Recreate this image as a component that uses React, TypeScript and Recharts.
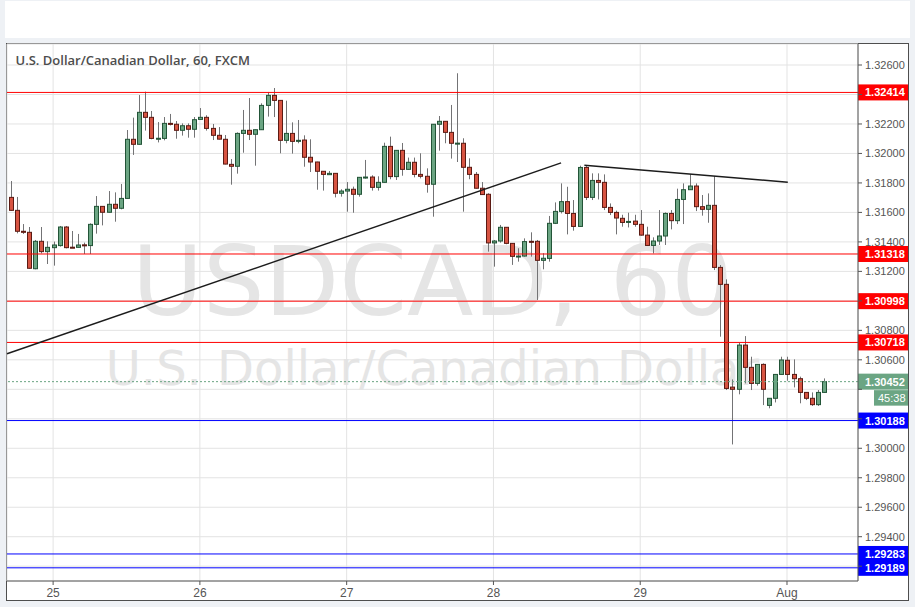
import React from 'react';
import { ComposedChart, Bar, XAxis, YAxis, CartesianGrid, ReferenceLine } from 'recharts';

const OPEN = [
  1.31702, 1.31614, 1.31472, 1.31465, 1.31218, 1.31404, 1.31334, 1.31361, 1.31375, 1.31501,
  1.31364, 1.31363, 1.31380, 1.31375, 1.31519, 1.31641, 1.31601, 1.31655, 1.31628, 1.31695,
  1.32096, 1.32062, 1.32279, 1.32245, 1.32102, 1.32102, 1.32204, 1.32198, 1.32157, 1.32188,
  1.32164, 1.32231, 1.32245, 1.32170, 1.32123, 1.32096, 1.31926, 1.31913, 1.32136, 1.32157,
  1.32130, 1.32161, 1.32326, 1.32394, 1.32360, 1.32089, 1.32136, 1.32082, 1.32091, 1.31974,
  1.31942, 1.31879, 1.31856, 1.31865, 1.31730, 1.31745, 1.31757, 1.31723, 1.31838, 1.31840,
  1.31770, 1.31804, 1.32048, 1.31843, 1.32021, 1.31892, 1.31940, 1.31858, 1.31845, 1.31791,
  1.32198, 1.32218, 1.32143, 1.32069, 1.32069, 1.31906, 1.31858, 1.31764, 1.31723, 1.31393,
  1.31406, 1.31499, 1.31390, 1.31302, 1.31304, 1.31404, 1.31404, 1.31275, 1.31288, 1.31526,
  1.31607, 1.31673, 1.31593, 1.31505, 1.31905, 1.31702, 1.31817, 1.31804, 1.31634, 1.31600,
  1.31560, 1.31532, 1.31541, 1.31519, 1.31446, 1.31376, 1.31406, 1.31440, 1.31593, 1.31544,
  1.31688, 1.31754, 1.31779, 1.31639, 1.31621, 1.31648, 1.31227, 1.31112, 1.30415, 1.30400,
  1.30700, 1.30549, 1.30440, 1.30569, 1.30291, 1.30339, 1.30501, 1.30597, 1.30501, 1.30472,
  1.30379, 1.30339, 1.30296, 1.30379,
];
const HIGH = [
  1.31813, 1.31705, 1.31521, 1.31501, 1.31413, 1.31501, 1.31404, 1.31402, 1.31508, 1.31508,
  1.31474, 1.31454, 1.31395, 1.31526, 1.31711, 1.31643, 1.31745, 1.31736, 1.31793, 1.32159,
  1.32243, 1.32396, 1.32419, 1.32288, 1.32213, 1.32247, 1.32268, 1.32220, 1.32204, 1.32204,
  1.32247, 1.32308, 1.32259, 1.32200, 1.32179, 1.32125, 1.31962, 1.32143, 1.32295, 1.32376,
  1.32162, 1.32340, 1.32417, 1.32444, 1.32362, 1.32358, 1.32211, 1.32227, 1.32123, 1.32096,
  1.31944, 1.31881, 1.31881, 1.31867, 1.31757, 1.31806, 1.31775, 1.31840, 1.31956, 1.31852,
  1.31845, 1.32073, 1.32114, 1.32023, 1.32071, 1.31972, 1.31972, 1.32001, 1.31899, 1.32200,
  1.32254, 1.32220, 1.32329, 1.32544, 1.32103, 1.31967, 1.31874, 1.31806, 1.31730, 1.31413,
  1.31515, 1.31501, 1.31392, 1.31357, 1.31424, 1.31465, 1.31413, 1.31323, 1.31576, 1.31668,
  1.31797, 1.31774, 1.31684, 1.31917, 1.31921, 1.31865, 1.31865, 1.31858, 1.31661, 1.31612,
  1.31584, 1.31598, 1.31584, 1.31616, 1.31503, 1.31431, 1.31616, 1.31600, 1.31616, 1.31761,
  1.31797, 1.31860, 1.31797, 1.31718, 1.31729, 1.31847, 1.31243, 1.31146, 1.30467, 1.30716,
  1.30761, 1.30621, 1.30569, 1.30576, 1.30341, 1.30504, 1.30621, 1.30621, 1.30603, 1.30486,
  1.30381, 1.30379, 1.30395, 1.30474,
];
const LOW = [
  1.31610, 1.31458, 1.31454, 1.31218, 1.31214, 1.31322, 1.31250, 1.31239, 1.31368, 1.31356,
  1.31361, 1.31361, 1.31318, 1.31318, 1.31456, 1.31512, 1.31599, 1.31537, 1.31621, 1.31693,
  1.31990, 1.32060, 1.32155, 1.32096, 1.32075, 1.32089, 1.32190, 1.32100, 1.32121, 1.32107,
  1.32107, 1.32229, 1.32155, 1.32091, 1.32095, 1.31926, 1.31788, 1.31863, 1.32005, 1.32091,
  1.31917, 1.32159, 1.32250, 1.32247, 1.32001, 1.32069, 1.31999, 1.32069, 1.31910, 1.31874,
  1.31754, 1.31748, 1.31854, 1.31702, 1.31707, 1.31605, 1.31598, 1.31707, 1.31829, 1.31748,
  1.31748, 1.31802, 1.31825, 1.31820, 1.31849, 1.31888, 1.31838, 1.31831, 1.31734, 1.31571,
  1.32019, 1.32069, 1.31965, 1.31942, 1.31605, 1.31825, 1.31762, 1.31719, 1.31334, 1.31232,
  1.31395, 1.31384, 1.31244, 1.31266, 1.31300, 1.31300, 1.31006, 1.31214, 1.31266, 1.31521,
  1.31593, 1.31451, 1.31476, 1.31503, 1.31684, 1.31684, 1.31688, 1.31616, 1.31582, 1.31451,
  1.31503, 1.31498, 1.31503, 1.31442, 1.31372, 1.31322, 1.31379, 1.31379, 1.31485, 1.31521,
  1.31521, 1.31752, 1.31609, 1.31578, 1.31530, 1.31209, 1.30757, 1.30395, 1.30026, 1.30366,
  1.30440, 1.30395, 1.30425, 1.30293, 1.30271, 1.30311, 1.30499, 1.30458, 1.30413, 1.30305,
  1.30327, 1.30287, 1.30287, 1.30377,
];
const CLOSE = [
  1.31614, 1.31472, 1.31465, 1.31221, 1.31404, 1.31334, 1.31363, 1.31379, 1.31501, 1.31361,
  1.31362, 1.31379, 1.31378, 1.31519, 1.31641, 1.31601, 1.31655, 1.31628, 1.31695, 1.32096,
  1.32062, 1.32279, 1.32245, 1.32102, 1.32103, 1.32204, 1.32198, 1.32157, 1.32188, 1.32164,
  1.32229, 1.32245, 1.32170, 1.32123, 1.32097, 1.31928, 1.31913, 1.32136, 1.32157, 1.32130,
  1.32161, 1.32326, 1.32394, 1.32360, 1.32089, 1.32136, 1.32082, 1.32089, 1.31974, 1.31942,
  1.31879, 1.31858, 1.31865, 1.31730, 1.31745, 1.31757, 1.31723, 1.31838, 1.31840, 1.31770,
  1.31804, 1.32048, 1.31843, 1.32021, 1.31892, 1.31940, 1.31858, 1.31845, 1.31791, 1.32198,
  1.32218, 1.32143, 1.32069, 1.32070, 1.31906, 1.31858, 1.31764, 1.31721, 1.31393, 1.31406,
  1.31499, 1.31390, 1.31302, 1.31304, 1.31402, 1.31402, 1.31275, 1.31289, 1.31526, 1.31607,
  1.31673, 1.31593, 1.31505, 1.31905, 1.31702, 1.31817, 1.31804, 1.31634, 1.31600, 1.31562,
  1.31532, 1.31539, 1.31519, 1.31446, 1.31376, 1.31406, 1.31440, 1.31593, 1.31544, 1.31688,
  1.31754, 1.31779, 1.31639, 1.31621, 1.31648, 1.31227, 1.31112, 1.30406, 1.30400, 1.30700,
  1.30549, 1.30440, 1.30569, 1.30400, 1.30339, 1.30501, 1.30599, 1.30501, 1.30472, 1.30379,
  1.30339, 1.30296, 1.30379, 1.30452,
];

const DAY_TICKS = [7, 31, 55, 79, 103, 127];
const DAY_LABELS = ['25', '26', '27', '28', '29', 'Aug'];
const PRICE_TICKS = [
  1.292, 1.294, 1.296, 1.298, 1.3, 1.302, 1.304, 1.306, 1.308,
  1.31, 1.312, 1.314, 1.316, 1.318, 1.32, 1.322, 1.324, 1.326,
];
const RED_LEVELS = [1.32414, 1.31318, 1.30998, 1.30718];
const BLUE_LEVELS = [1.30188, 1.29283, 1.29189];
const LAST_PRICE = 1.30452;
const COUNTDOWN = '45:38';
const TREND_UP = [{ i: -0.54, p: 1.30641 }, { i: 90.06, p: 1.31936 }];
const TREND_DOWN = [{ i: 93.87, p: 1.3192 }, { i: 127.13, p: 1.31805 }];

const TITLE = 'U.S. Dollar/Canadian Dollar, 60, FXCM';
const WATERMARK_1 = 'USDCAD, 60';
const WATERMARK_2 = 'U.S. Dollar/Canadian Dollar';

const X_DOMAIN: [number, number] = [-0.54, 138.61];
const Y_DOMAIN: [number, number] = [1.290996, 1.327425];

const UP_FILL = '#6ba583';
const DOWN_FILL = '#d75442';
const UP_BORDER = '#225437';
const DOWN_BORDER = '#5b1a13';
const WICK = '#737375';
const AXIS_FONT = '"Liberation Sans", Arial, sans-serif';
const TAG_LEVELS = [...RED_LEVELS, ...BLUE_LEVELS, LAST_PRICE];

const data = OPEN.map((o, i) => ({
  i,
  o,
  h: HIGH[i],
  l: LOW[i],
  c: CLOSE[i],
  range: [LOW[i], HIGH[i]],
}));

const Candle = (props: any) => {
  const { x, y, width, height, payload } = props;
  if (!payload || x == null || y == null) return null;
  const { o, h, l, c } = payload;
  const top = Math.min(y, y + height);
  const bot = Math.max(y, y + height);
  const span = h - l;
  const toY = (v: number) => (span > 0 ? top + ((h - v) / span) * (bot - top) : top);
  const cx = Math.round(x + width / 2);
  const up = c >= o;
  const yo = toY(o);
  const yc = toY(c);
  const bTop = Math.min(yo, yc);
  const bh = Math.max(Math.abs(yo - yc), 1);
  return (
    <g>
      <line x1={cx + 0.5} x2={cx + 0.5} y1={top} y2={bot} stroke={WICK} strokeWidth={1} />
      <rect
        x={cx - 1.5}
        y={bTop}
        width={4}
        height={bh}
        fill={up ? UP_FILL : DOWN_FILL}
        stroke={up ? UP_BORDER : DOWN_BORDER}
        strokeWidth={1}
      />
    </g>
  );
};

// price-axis tick text; ticks hidden behind a price tag are not drawn
const PriceTick = (props: any) => {
  const { x, y, payload } = props;
  const v = payload?.value;
  if (v == null) return null;
  const covered = TAG_LEVELS.some((lv) => Math.abs(lv - v) < 0.0006);
  if (covered) return null;
  return (
    <text x={x} y={y} dy="0.355em" fill="#555555" fontSize={11} fontFamily={AXIS_FONT} textAnchor="start">
      {v.toFixed(5)}
    </text>
  );
};

const PriceTag = (props: any) => {
  const { viewBox, bg, text, extra } = props;
  if (!viewBox) return null;
  const left = viewBox.x + viewBox.width;
  const y = viewBox.y;
  return (
    <g>
      <rect x={left} y={y - 8} width={50} height={16} fill={bg} />
      <text x={left + 7} y={y + 4} fill="#ffffff" fontSize={11} fontWeight="bold" fontFamily={AXIS_FONT}>
        {text}
      </text>
      {extra ? (
        <g>
          <rect x={left + 16} y={y + 8.5} width={34} height={15.5} fill={bg} />
          <text x={left + 20} y={y + 20.5} fill="#ffffff" fontSize={11} fontFamily={AXIS_FONT}>
            {extra}
          </text>
        </g>
      ) : null}
    </g>
  );
};

export default function App() {
  return (
    <div
      style={{
        position: 'absolute',
        left: 0,
        top: 0,
        width: 915,
        height: 607,
        background: '#eef1f5',
        overflow: 'hidden',
      }}
    >
      <div style={{ position: 'absolute', left: 5, top: 1, width: 905, height: 37, background: '#ffffff' }} />
      <div
        style={{
          position: 'absolute',
          left: 6,
          top: 43,
          width: 903,
          height: 558,
          boxSizing: 'border-box',
          border: '1px solid #4e4e4e',
          background: '#ffffff',
        }}
      />
      <svg width={915} height={607} style={{ position: 'absolute', left: 0, top: 0 }}>
        <text
          x={432.5}
          y={315}
          textAnchor="middle"
          fontSize={97}
          fontFamily='"DejaVu Sans", sans-serif'
          fill="#e5e5e5"
        >
          {WATERMARK_1}
        </text>
        <text
          x={432.5}
          y={385}
          textAnchor="middle"
          fontSize={48}
          fontFamily='"DejaVu Sans", sans-serif'
          fill="#e5e5e5"
        >
          {WATERMARK_2}
        </text>
      </svg>
      <div style={{ position: 'absolute', left: 0, top: 0 }}>
        <ComposedChart width={915} height={607} data={data} margin={{ top: 44, right: 7, bottom: 7, left: 7 }}>
          <CartesianGrid stroke="#e3e3e3" strokeWidth={1} />
          {RED_LEVELS.map((v) => (
            <ReferenceLine key={'r' + v} y={v} stroke="#ff0000" strokeWidth={1} />
          ))}
          {BLUE_LEVELS.map((v) => (
            <ReferenceLine key={'b' + v} y={v} stroke="#0000ff" strokeWidth={1} />
          ))}
          <ReferenceLine y={LAST_PRICE} stroke={UP_FILL} strokeDasharray="2 2" strokeWidth={1} />
          <Bar dataKey="range" barSize={5} shape={<Candle />} isAnimationActive={false} />
          <ReferenceLine
            segment={TREND_UP.map((pt) => ({ x: pt.i, y: pt.p }))}
            stroke="#1c1c1c"
            strokeWidth={1.4}
            ifOverflow="visible"
          />
          <ReferenceLine
            segment={TREND_DOWN.map((pt) => ({ x: pt.i, y: pt.p }))}
            stroke="#1c1c1c"
            strokeWidth={1.4}
            ifOverflow="visible"
          />
          <XAxis
            dataKey="i"
            type="number"
            domain={X_DOMAIN}
            allowDataOverflow
            ticks={DAY_TICKS}
            tickFormatter={(v: number) => DAY_LABELS[DAY_TICKS.indexOf(v)] ?? ''}
            height={19}
            stroke="#555555"
            tickSize={4}
            tickMargin={3}
            tick={{ fill: '#555555', fontSize: 12, fontFamily: AXIS_FONT }}
            interval={0}
          />
          <YAxis
            orientation="right"
            type="number"
            domain={Y_DOMAIN}
            allowDataOverflow
            ticks={PRICE_TICKS}
            width={50}
            stroke="#555555"
            tickSize={4}
            tickMargin={3}
            tick={<PriceTick />}
            interval={0}
          />
          {RED_LEVELS.map((v) => (
            <ReferenceLine
              key={'rl' + v}
              y={v}
              stroke="none"
              label={<PriceTag bg="#ff0000" text={v.toFixed(5)} />}
            />
          ))}
          {BLUE_LEVELS.map((v) => (
            <ReferenceLine
              key={'bl' + v}
              y={v}
              stroke="none"
              label={<PriceTag bg="#0000ff" text={v.toFixed(5)} />}
            />
          ))}
          <ReferenceLine
            y={LAST_PRICE}
            stroke="none"
            label={<PriceTag bg={UP_FILL} text={LAST_PRICE.toFixed(5)} extra={COUNTDOWN} />}
          />
        </ComposedChart>
      </div>
      <svg width={915} height={80} style={{ position: 'absolute', left: 0, top: 0, pointerEvents: 'none' }}>
        <text x={15.5} y={65} fontSize={13} fontWeight={600} fontFamily='"Open Sans", sans-serif' fill="#4d4d4d">
          {TITLE}
        </text>
      </svg>
    </div>
  );
}
